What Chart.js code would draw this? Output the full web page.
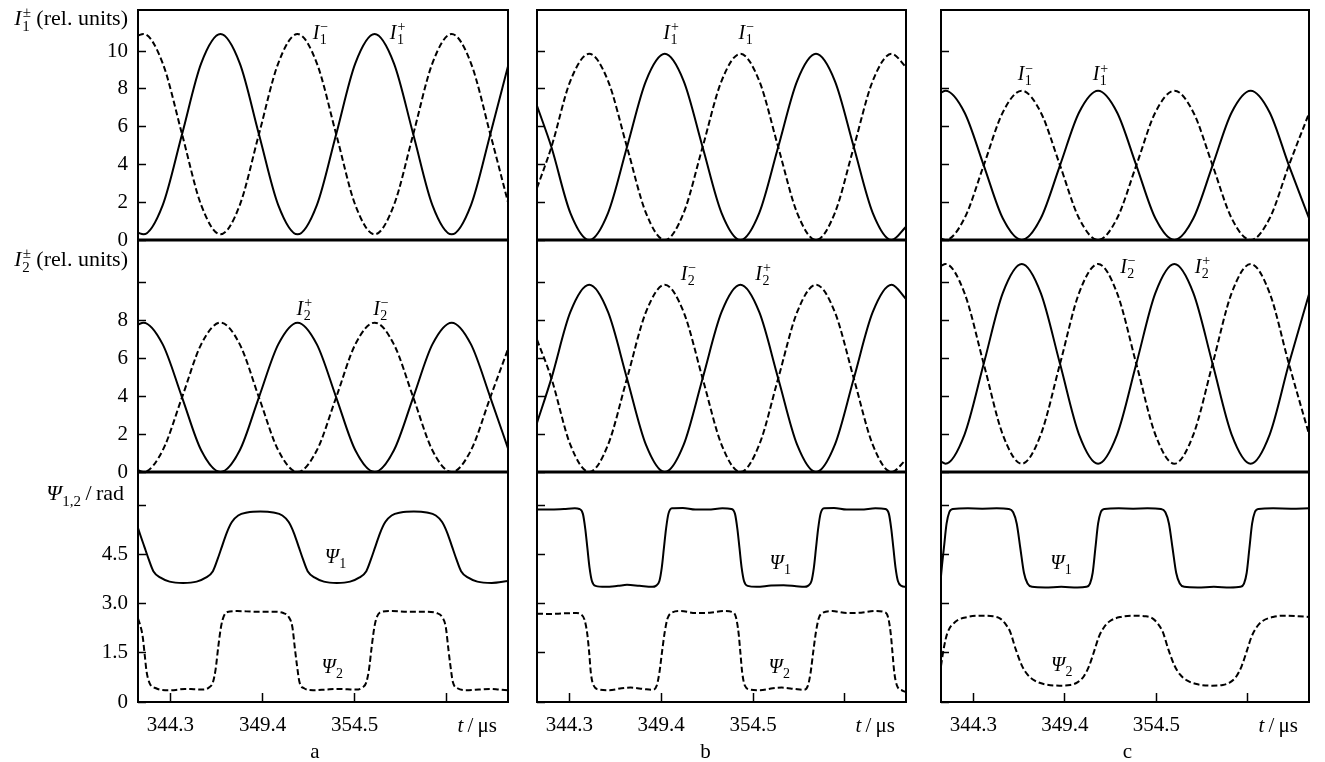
<!DOCTYPE html>
<html>
<head>
<meta charset="utf-8">
<script src="https://cdn.jsdelivr.net/npm/chart.js@4.4.1/dist/chart.umd.min.js"></script>
<style>
  body { margin: 0; background: #fff; }
  #wrap { position: relative; width: 1325px; height: 762px; overflow: hidden; background: #fff; }
  #wrap canvas { position: absolute; }
</style>
</head>
<body>
<div id="wrap"></div>
<script>
// ---- axes (time in microseconds) ----
const tMin = 342.5, tMax = 363.0;
const timeTicks = [344.3, 349.4, 354.5, 359.6];
const iTicks = [0, 2, 4, 6, 8, 10];
const psiTicks = [0, 1.5, 3.0, 4.5, 6.0];
const iMaxTop = 12.17, iMaxMid = 12.27, psiMax = 7.03;

// ---- panel a ----
const aI1plus = [[342.5,0.38],[342.8,0.3],[343.87,1.85],[344.94,5.6],[346.0,9.35],[347.07,10.9],[348.14,9.35],[349.2,5.6],[350.27,1.85],[351.34,0.3],[352.41,1.85],[353.48,5.6],[354.54,9.35],[355.61,10.9],[356.68,9.35],[357.75,5.6],[358.81,1.85],[359.88,0.3],[360.95,1.85],[362.02,5.6],[363.0,9.2]];
const aI1minus = [[342.5,10.82],[342.8,10.9],[343.87,9.35],[344.94,5.6],[346.0,1.85],[347.07,0.3],[348.14,1.85],[349.2,5.6],[350.27,9.35],[351.34,10.9],[352.41,9.35],[353.48,5.6],[354.54,1.85],[355.61,0.3],[356.68,1.85],[357.75,5.6],[358.81,9.35],[359.88,10.9],[360.95,9.35],[362.02,5.6],[363.0,2.0]];
const aI2plus = [[342.5,7.8],[342.8,7.9],[343.87,6.75],[344.94,3.95],[346.0,1.15],[347.07,0],[348.14,1.15],[349.2,3.95],[350.27,6.75],[351.34,7.9],[352.41,6.75],[353.48,3.95],[354.54,1.15],[355.61,0],[356.68,1.15],[357.75,3.95],[358.81,6.75],[359.88,7.9],[360.95,6.75],[362.02,3.95],[363.0,1.25]];
const aI2minus = [[342.5,0.1],[342.8,0],[343.87,1.15],[344.94,3.95],[346.0,6.75],[347.07,7.9],[348.14,6.75],[349.2,3.95],[350.27,1.15],[351.34,0],[352.41,1.15],[353.48,3.95],[354.54,6.75],[355.61,7.9],[356.68,6.75],[357.75,3.95],[358.81,1.15],[359.88,0],[360.95,1.15],[362.02,3.95],[363.0,6.5]];
const aPsi1 = [[342.5,5.32],[342.6,5.15],[342.85,4.75],[343.1,4.35],[343.35,4.0],[343.75,3.8],[344.25,3.68],[345.0,3.64],[345.75,3.68],[346.25,3.8],[346.65,4.0],[346.9,4.35],[347.15,4.75],[347.4,5.15],[347.7,5.5],[348.05,5.7],[348.55,5.79],[349.28,5.82],[350.0,5.79],[350.5,5.7],[350.85,5.5],[351.15,5.15],[351.4,4.75],[351.65,4.35],[351.9,4.0],[352.3,3.8],[352.8,3.68],[353.52,3.64],[354.25,3.68],[354.75,3.8],[355.15,4.0],[355.4,4.35],[355.65,4.75],[355.9,5.15],[356.2,5.5],[356.55,5.7],[357.05,5.79],[357.78,5.82],[358.5,5.79],[359.0,5.7],[359.35,5.5],[359.65,5.15],[359.9,4.75],[360.15,4.35],[360.4,4.0],[360.8,3.8],[361.3,3.68],[362.1,3.64],[363.0,3.7]];
const aPsi2 = [[342.5,2.55],[342.62,2.35],[342.76,2.0],[342.88,1.4],[342.97,0.95],[343.14,0.58],[343.5,0.42],[344.0,0.36],[344.6,0.37],[345.1,0.4],[345.6,0.39],[346.1,0.38],[346.45,0.45],[346.65,0.6],[346.8,1.0],[346.95,1.7],[347.1,2.3],[347.25,2.62],[347.45,2.75],[348.0,2.78],[349.0,2.76],[350.0,2.76],[350.55,2.72],[350.85,2.6],[351.05,2.3],[351.2,1.6],[351.3,1.15],[351.45,0.6],[351.7,0.42],[352.2,0.36],[352.9,0.38],[353.5,0.4],[354.1,0.39],[354.6,0.38],[354.95,0.45],[355.15,0.6],[355.3,1.0],[355.45,1.7],[355.6,2.3],[355.75,2.62],[355.95,2.75],[356.5,2.78],[357.5,2.76],[358.5,2.76],[359.05,2.72],[359.35,2.6],[359.55,2.3],[359.7,1.6],[359.8,1.15],[359.95,0.6],[360.2,0.42],[360.7,0.36],[361.4,0.38],[362.0,0.4],[362.5,0.38],[363.0,0.36]];

// ---- panel b ----
const bI1plus = [[342.5,7.1],[343.3,4.92],[344.35,1.44],[345.4,0],[346.45,1.44],[347.5,4.92],[348.55,8.41],[349.6,9.85],[350.65,8.41],[351.7,4.92],[352.75,1.44],[353.8,0],[354.85,1.44],[355.9,4.92],[356.95,8.41],[358.0,9.85],[359.05,8.41],[360.1,4.92],[361.15,1.44],[362.2,0],[363.0,0.7]];
const bI1minus = [[342.5,2.75],[343.3,4.92],[344.35,8.41],[345.4,9.85],[346.45,8.41],[347.5,4.92],[348.55,1.44],[349.6,0],[350.65,1.44],[351.7,4.92],[352.75,8.41],[353.8,9.85],[354.85,8.41],[355.9,4.92],[356.95,1.44],[358.0,0],[359.05,1.44],[360.1,4.92],[361.15,8.41],[362.2,9.85],[363.0,9.15]];
const bI2plus = [[342.5,2.6],[343.3,4.95],[344.35,8.45],[345.4,9.9],[346.45,8.45],[347.5,4.95],[348.55,1.45],[349.6,0],[350.65,1.45],[351.7,4.95],[352.75,8.45],[353.8,9.9],[354.85,8.45],[355.9,4.95],[356.95,1.45],[358.0,0],[359.05,1.45],[360.1,4.95],[361.15,8.45],[362.2,9.9],[363.0,9.15]];
const bI2minus = [[342.5,7.0],[343.3,4.95],[344.35,1.45],[345.4,0],[346.45,1.45],[347.5,4.95],[348.55,8.45],[349.6,9.9],[350.65,8.45],[351.7,4.95],[352.75,1.45],[353.8,0],[354.85,1.45],[355.9,4.95],[356.95,8.45],[358.0,9.9],[359.05,8.45],[360.1,4.95],[361.15,1.45],[362.2,0],[363.0,0.65]];
const bPsi1 = [[342.5,5.88],[343.2,5.88],[344.0,5.9],[344.6,5.92],[344.85,5.9],[345.05,5.75],[345.18,5.3],[345.3,4.7],[345.42,4.1],[345.55,3.7],[345.75,3.55],[346.3,3.52],[347.0,3.55],[347.5,3.58],[348.2,3.55],[348.9,3.52],[349.1,3.55],[349.3,3.7],[349.43,4.1],[349.55,4.7],[349.67,5.3],[349.8,5.75],[350.0,5.92],[350.6,5.93],[351.3,5.88],[352.0,5.88],[352.8,5.92],[353.3,5.9],[353.5,5.75],[353.63,5.3],[353.75,4.7],[353.87,4.1],[354.0,3.7],[354.2,3.55],[354.7,3.52],[355.5,3.56],[356.2,3.57],[356.9,3.54],[357.35,3.52],[357.55,3.55],[357.75,3.7],[357.88,4.1],[358.0,4.7],[358.12,5.3],[358.25,5.75],[358.45,5.92],[359.0,5.93],[359.7,5.88],[360.5,5.88],[361.3,5.92],[361.85,5.9],[362.05,5.75],[362.18,5.3],[362.3,4.7],[362.42,4.1],[362.55,3.7],[362.75,3.55],[363.0,3.52]];
const bPsi2 = [[342.5,2.7],[343.2,2.69],[344.0,2.71],[344.7,2.72],[344.95,2.68],[345.15,2.5],[345.3,2.05],[345.4,1.5],[345.5,0.85],[345.65,0.5],[345.95,0.38],[346.5,0.36],[347.2,0.42],[347.7,0.44],[348.4,0.4],[348.9,0.37],[349.15,0.5],[349.3,0.9],[349.45,1.55],[349.6,2.15],[349.75,2.55],[349.95,2.72],[350.5,2.78],[351.3,2.72],[352.1,2.73],[352.9,2.78],[353.35,2.75],[353.55,2.6],[353.7,2.1],[353.8,1.5],[353.9,0.9],[354.05,0.5],[354.35,0.38],[354.9,0.36],[355.6,0.42],[356.1,0.44],[356.8,0.4],[357.3,0.37],[357.55,0.5],[357.7,0.9],[357.85,1.55],[358.0,2.15],[358.15,2.55],[358.35,2.72],[358.9,2.78],[359.7,2.72],[360.5,2.73],[361.3,2.78],[361.8,2.75],[362.0,2.6],[362.15,2.1],[362.25,1.5],[362.35,0.9],[362.5,0.5],[362.8,0.35],[363.0,0.3]];

// ---- panel c ----
const cI1plus = [[342.5,7.8],[342.75,7.9],[343.81,6.75],[344.88,3.95],[345.94,1.15],[347.0,0],[348.06,1.15],[349.13,3.95],[350.19,6.75],[351.25,7.9],[352.31,6.75],[353.38,3.95],[354.44,1.15],[355.5,0],[356.56,1.15],[357.63,3.95],[358.69,6.75],[359.75,7.9],[360.81,6.75],[361.88,3.95],[363.0,1.15]];
const cI1minus = [[342.5,0.08],[342.75,0],[343.81,1.15],[344.88,3.95],[345.94,6.75],[347.0,7.9],[348.06,6.75],[349.13,3.95],[350.19,1.15],[351.25,0],[352.31,1.15],[353.38,3.95],[354.44,6.75],[355.5,7.9],[356.56,6.75],[357.63,3.95],[358.69,1.15],[359.75,0],[360.81,1.15],[361.88,3.95],[363.0,6.7]];
const cI2plus = [[342.5,0.55],[342.75,0.44],[343.81,1.98],[344.88,5.72],[345.94,9.46],[347.0,11.0],[348.06,9.46],[349.13,5.72],[350.19,1.98],[351.25,0.44],[352.31,1.98],[353.38,5.72],[354.44,9.46],[355.5,11.0],[356.56,9.46],[357.63,5.72],[358.69,1.98],[359.75,0.44],[360.81,1.98],[361.88,5.72],[363.0,9.4]];
const cI2minus = [[342.5,10.9],[342.75,11.0],[343.81,9.46],[344.88,5.72],[345.94,1.98],[347.0,0.44],[348.06,1.98],[349.13,5.72],[350.19,9.46],[351.25,11.0],[352.31,9.46],[353.38,5.72],[354.44,1.98],[355.5,0.44],[356.56,1.98],[357.63,5.72],[358.69,9.46],[359.75,11.0],[360.81,9.46],[361.88,5.72],[363.0,2.0]];
const cPsi1 = [[342.5,3.85],[342.56,4.2],[342.66,4.7],[342.81,5.45],[342.96,5.8],[343.16,5.9],[344.0,5.92],[344.8,5.91],[345.6,5.92],[346.27,5.9],[346.52,5.8],[346.72,5.45],[346.92,4.7],[347.12,3.95],[347.32,3.62],[347.57,3.52],[348.3,3.5],[349.2,3.52],[350.1,3.5],[350.6,3.52],[350.8,3.62],[350.95,3.95],[351.1,4.7],[351.25,5.45],[351.4,5.8],[351.6,5.9],[352.4,5.92],[353.2,5.91],[354.0,5.92],[354.75,5.9],[355.0,5.8],[355.2,5.45],[355.4,4.7],[355.6,3.95],[355.8,3.62],[356.05,3.52],[356.8,3.5],[357.7,3.52],[358.6,3.5],[359.18,3.52],[359.38,3.62],[359.53,3.95],[359.68,4.7],[359.83,5.45],[359.98,5.8],[360.18,5.9],[361.0,5.92],[362.0,5.91],[363.0,5.92]];
const cPsi2 = [[342.5,1.1],[342.64,1.6],[342.85,2.1],[343.3,2.45],[344.0,2.6],[344.8,2.64],[345.4,2.62],[345.8,2.55],[346.1,2.38],[346.35,2.15],[346.67,1.6],[347.0,1.12],[347.3,0.85],[347.7,0.66],[348.3,0.54],[349.1,0.5],[349.7,0.52],[350.1,0.6],[350.45,0.78],[350.75,1.1],[351.06,1.6],[351.3,2.0],[351.6,2.3],[351.9,2.47],[352.5,2.6],[353.2,2.64],[353.9,2.62],[354.3,2.55],[354.6,2.38],[354.85,2.15],[355.17,1.6],[355.5,1.12],[355.8,0.85],[356.2,0.66],[356.8,0.54],[357.6,0.5],[358.2,0.52],[358.6,0.6],[358.95,0.78],[359.25,1.1],[359.56,1.6],[359.8,2.0],[360.1,2.3],[360.4,2.47],[361.0,2.6],[361.7,2.64],[362.4,2.62],[363.0,2.6]];

// curve labels: [column, row, letter, sub, sup, t, value]
const curveLabels = [
  ['a', 0, 'I', '1', '\u2212', 352.18, 10.66], ['a', 0, 'I', '1', '+', 356.45, 10.66],
  ['a', 1, 'I', '2', '+', 351.28, 8.32], ['a', 1, 'I', '2', '\u2212', 355.53, 8.32],
  ['a', 2, '\u03A8', '1', '', 352.85, 4.25], ['a', 2, '\u03A8', '2', '', 352.66, 0.89],
  ['b', 0, 'I', '1', '+', 349.52, 10.64], ['b', 0, 'I', '1', '\u2212', 353.7, 10.64],
  ['b', 1, 'I', '2', '\u2212', 350.48, 10.17], ['b', 1, 'I', '2', '+', 354.63, 10.17],
  ['b', 2, '\u03A8', '1', '', 355.42, 4.05], ['b', 2, '\u03A8', '2', '', 355.36, 0.89],
  ['c', 0, 'I', '1', '\u2212', 346.77, 8.44], ['c', 0, 'I', '1', '+', 350.95, 8.44],
  ['c', 1, 'I', '2', '\u2212', 352.48, 10.53], ['c', 1, 'I', '2', '+', 356.63, 10.53],
  ['c', 2, '\u03A8', '1', '', 348.58, 4.05], ['c', 2, '\u03A8', '2', '', 348.63, 0.94]
];
const panelLetterT = { a: 352.3, b: 351.86, c: 352.89 };

// ---- layout (page pixels) ----
const SERIF = '"Liberation Serif", "DejaVu Serif", serif';
const cols = [
  { id: 'a', left: 138, right: 508 },
  { id: 'b', left: 537, right: 906 },
  { id: 'c', left: 941, right: 1309 }
];
const rows = [
  { top: 10, bottom: 240, max: iMaxTop, ticks: iTicks, hide: -1 },
  { top: 240, bottom: 472, max: iMaxMid, ticks: iTicks, hide: 10 },
  { top: 472, bottom: 702, max: psiMax, ticks: psiTicks, hide: 6 }
];
const titles = [
  { main: 'I', sub: '1', sup: '\u00B1', tail: ' (rel. units)', y: 25, gap: 10 },
  { main: 'I', sub: '2', sup: '\u00B1', tail: ' (rel. units)', y: 266, gap: 10 },
  { main: '\u03A8', sub: '1,2', sup: '', tail: '\u2009/\u2009rad', y: 500, gap: 14 }
];
const seriesByPanel = {
  a: [[aI1plus, aI1minus], [aI2plus, aI2minus], [aPsi1, aPsi2]],
  b: [[bI1plus, bI1minus], [bI2plus, bI2minus], [bPsi1, bPsi2]],
  c: [[cI1plus, cI1minus], [cI2plus, cI2minus], [cPsi1, cPsi2]]
};

// italic symbol with stacked sub/superscript and optional upright tail; returns width
function symbol(ctx, x, y, o, size, draw) {
  const small = Math.round(size * 0.7);
  ctx.font = 'italic ' + size + 'px ' + SERIF;
  if (draw) ctx.fillText(o.main, x, y);
  let cx = x + ctx.measureText(o.main).width;
  ctx.font = small + 'px ' + SERIF;
  let w = 0;
  if (o.sub) {
    if (draw) ctx.fillText(o.sub, cx + 0.5, y + size * 0.25);
    w = ctx.measureText(o.sub).width + 0.5;
  }
  if (o.sup) {
    if (draw) ctx.fillText(o.sup, cx + 1, y - size * 0.38);
    w = Math.max(w, ctx.measureText(o.sup).width + 1);
  }
  cx += w;
  if (o.tail) {
    ctx.font = size + 'px ' + SERIF;
    if (draw) ctx.fillText(o.tail, cx, y);
    cx += ctx.measureText(o.tail).width;
  }
  return cx - x;
}

const notes = {};

const annotate = {
  id: 'annotate',
  afterDraw(chart) {
    const n = notes[chart.canvas.id];
    const { ctx, chartArea: a } = chart;
    const x = chart.scales.x, y = chart.scales.y;
    ctx.save();
    ctx.strokeStyle = '#000';
    ctx.fillStyle = '#000';
    ctx.textAlign = 'left';
    ctx.textBaseline = 'alphabetic';
    ctx.lineWidth = 2;
    ctx.strokeRect(a.left, a.top, a.right - a.left, a.bottom - a.top);
    if (n.row < 2) {
      ctx.lineWidth = 3;
      ctx.beginPath();
      ctx.moveTo(a.left, a.bottom);
      ctx.lineTo(a.right, a.bottom);
      ctx.stroke();
    }
    curveLabels.filter(l => l[0] === n.col && l[1] === n.row).forEach(l => {
      symbol(ctx, x.getPixelForValue(l[5]), y.getPixelForValue(l[6]),
        { main: l[2], sub: l[3], sup: l[4] }, 20, true);
    });
    if (n.col === 'a') {
      const t = titles[n.row];
      const w = symbol(ctx, 0, 0, t, 22, false);
      symbol(ctx, a.left - t.gap - w, t.y - n.top, t, 22, true);
    }
    if (n.row === 2) {
      const unit = { main: 't', sub: '', sup: '', tail: '\u2009/\u2009\u03BCs' };
      const w = symbol(ctx, 0, 0, unit, 21, false);
      symbol(ctx, a.right - 11 - w, a.bottom + 30, unit, 21, true);
      ctx.font = '21px ' + SERIF;
      ctx.textAlign = 'center';
      ctx.fillText(n.col, x.getPixelForValue(panelLetterT[n.col]), a.bottom + 56);
    }
    ctx.restore();
  }
};

function makePanel(ci, ri) {
  const col = cols[ci], row = rows[ri];
  const yw = ci === 0 ? col.left : 10;
  const padTop = 10, padRight = 12;
  const bottomExtra = ri === 2 ? 60 : 12;
  const canvas = document.createElement('canvas');
  canvas.id = 'p' + col.id + ri;
  canvas.width = col.right - col.left + yw + padRight;
  canvas.height = row.bottom - row.top + padTop + bottomExtra;
  canvas.style.left = (col.left - yw) + 'px';
  canvas.style.top = (row.top - padTop) + 'px';
  document.getElementById('wrap').appendChild(canvas);
  notes[canvas.id] = { col: col.id, row: ri, top: row.top - padTop };

  const [solid, dashed] = seriesByPanel[col.id][ri];
  const tickFont = { family: SERIF, size: 21 };

  new Chart(canvas.getContext('2d'), {
    type: 'line',
    data: {
      datasets: [
        { data: solid, borderColor: '#000', borderWidth: 2, borderDash: [] },
        { data: dashed, borderColor: '#000', borderWidth: 2, borderDash: [6, 3] }
      ]
    },
    options: {
      responsive: false,
      animation: false,
      devicePixelRatio: 1,
      layout: { padding: { top: padTop, right: padRight, bottom: ri === 2 ? 0 : 12, left: 0 } },
      plugins: { legend: { display: false }, tooltip: { enabled: false } },
      elements: {
        point: { radius: 0 },
        line: { cubicInterpolationMode: 'monotone', fill: false }
      },
      scales: {
        x: {
          type: 'linear',
          min: tMin,
          max: tMax,
          display: ri === 2,
          afterBuildTicks: s => { s.ticks = timeTicks.map(v => ({ value: v })); },
          afterFit: s => {
            s.height = ri === 2 ? 60 : 0;
            s.paddingLeft = 0;
            s.paddingRight = 0;
          },
          ticks: {
            autoSkip: false,
            maxRotation: 0,
            padding: 20,
            color: '#000',
            font: tickFont,
            callback: v => (v === 359.6 ? '' : v.toFixed(1))
          },
          grid: { drawOnChartArea: false, drawTicks: true, tickLength: -9, tickWidth: 1.5, tickColor: '#000' },
          border: { display: false }
        },
        y: {
          type: 'linear',
          min: 0,
          max: row.max,
          afterBuildTicks: s => { s.ticks = row.ticks.map(v => ({ value: v })); },
          afterFit: s => {
            s.width = yw;
            s.paddingTop = 0;
            s.paddingBottom = 0;
          },
          ticks: {
            display: ci === 0,
            autoSkip: false,
            padding: 18,
            color: '#000',
            font: tickFont,
            callback: v => (v === row.hide ? '' : (ri === 2 ? v.toFixed(1).replace('0.0', '0') : String(v)))
          },
          grid: { drawOnChartArea: false, drawTicks: true, tickLength: -8, tickWidth: 1.5, tickColor: '#000' },
          border: { display: false }
        }
      }
    },
    plugins: [annotate]
  });
}

for (let ri = 0; ri < 3; ri++) {
  for (let ci = 0; ci < 3; ci++) makePanel(ci, ri);
}
</script>
</body>
</html>
